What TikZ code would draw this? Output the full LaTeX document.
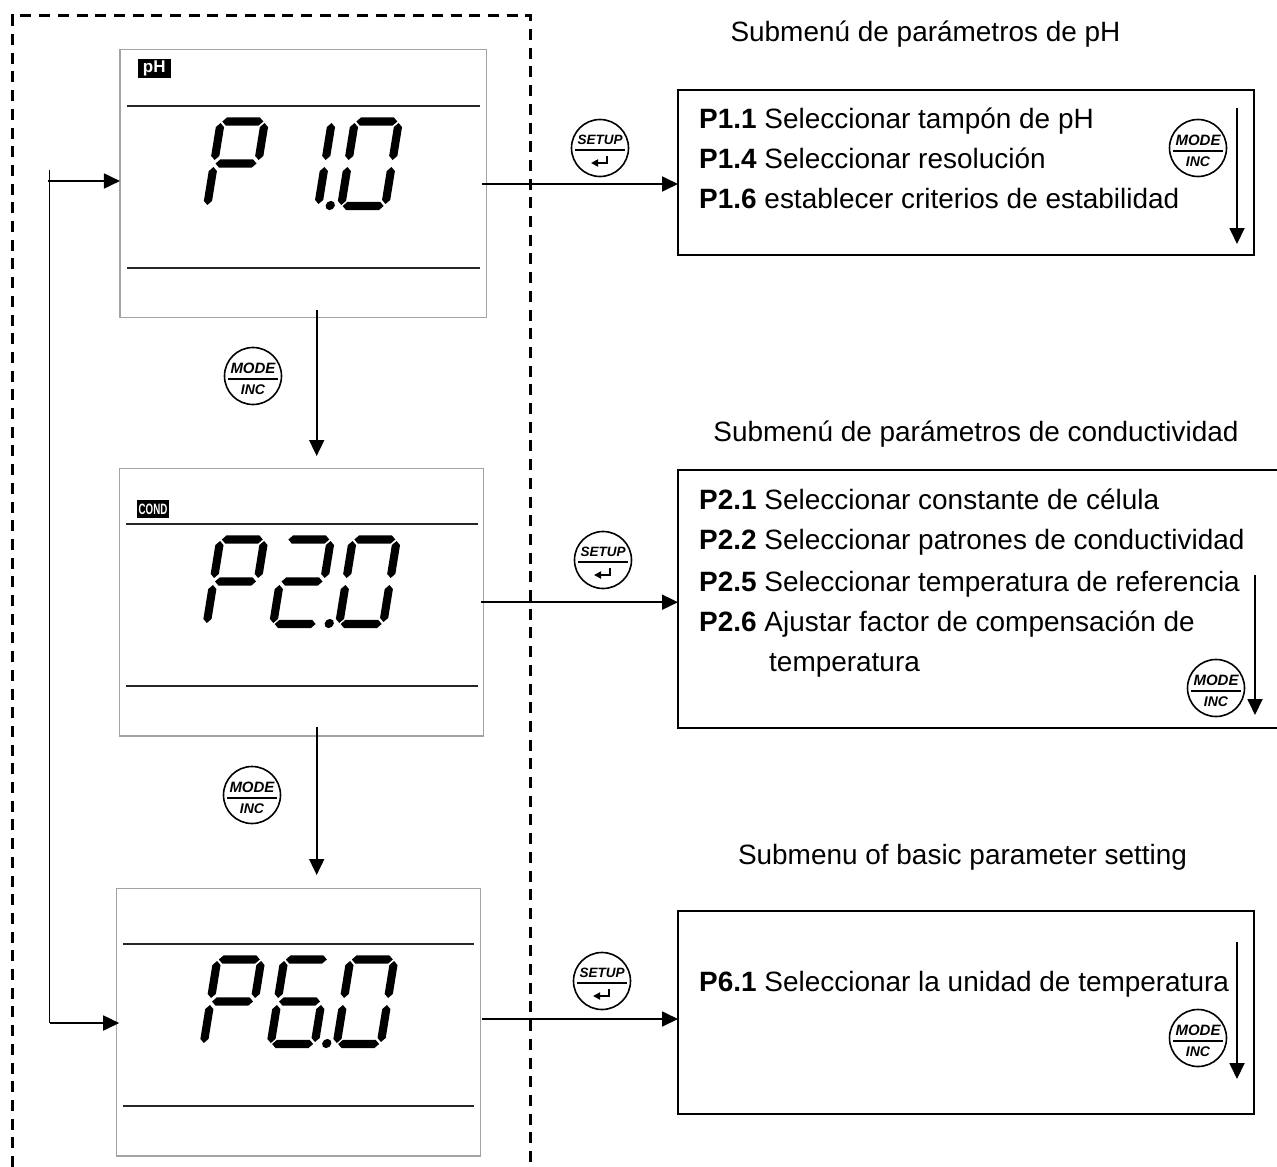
\documentclass[tikz,border=0pt]{standalone}
\usepackage{fontspec}
\setmainfont{Liberation Sans}
\usetikzlibrary{arrows.meta,calc}
\tikzset{
  panel/.style={draw=black!36,line width=1.5pt,rectangle,inner sep=0pt,outer sep=0pt},
  rulerline/.style={line width=2pt,draw=black!85},
  submenu/.style={rectangle,inner sep=0pt,outer sep=0pt},
  boxline/.style={line width=1.9pt,draw=black},
  arr/.style={line width=1.8pt,-{Triangle[length=16pt,width=15pt]}},
  plain/.style={line width=1.8pt},
  dashbox/.style={line width=2.4pt,dash pattern=on 11pt off 7.7pt},
  menutext/.style={font=\fontsize{27.95}{30}\selectfont,anchor=base west,inner sep=0pt},
  titletext/.style={font=\fontsize{27.95}{30}\selectfont,anchor=center,inner sep=0pt},
  keyring/.style={circle,draw,line width=1.6pt,minimum size=57pt,inner sep=0pt},
  keytop/.style={font=\fontsize{15}{15}\selectfont\bfseries\itshape,inner sep=0pt},
  badge/.style={fill=black,text=white,inner sep=0pt,font=\bfseries},
}
\newcommand{\hsg}[3]{\fill (#1,#3) -- ({#1+4.2},{#3+4.2}) -- ({#2-4.2},{#3+4.2}) -- (#2,#3) -- ({#2-4.2},{#3-4.2}) -- ({#1+4.2},{#3-4.2}) -- cycle;}
\newcommand{\vsg}[3]{\fill (#1,#2) -- ({#1+4.1},{#2+4.1}) -- ({#1+4.1},{#3-4.1}) -- (#1,#3) -- ({#1-4.1},{#3-4.1}) -- ({#1-4.1},{#2+4.1}) -- cycle;}
\newcommand{\segA}{\hsg{4.5}{45.5}{88.5}}
\newcommand{\segG}{\hsg{4.5}{45.5}{46.5}}
\newcommand{\segD}{\hsg{4.5}{45.5}{4}}
\newcommand{\segF}{\vsg{3}{50}{87}}
\newcommand{\segB}{\vsg{47}{50}{87}}
\newcommand{\segE}{\vsg{3}{5}{43}}
\newcommand{\segC}{\vsg{47}{6}{43}}
\newcommand{\segP}{\fill (59,4.5) circle (4.6);}
\newcommand{\lcd}[3]{\begin{scope}[shift={(#1,#2)},y=1pt,xslant=.162]#3\end{scope}}
\newcommand{\modeicon}[3]{%
  \node[keyring] (#1) at (#2,#3) {};
  \node[keytop] (#1t) at ($(#1.center)+(0,-7.5)$) {MODE};
  \node[keytop,font=\fontsize{14}{14}\selectfont\bfseries\itshape] (#1b) at ($(#1.center)+(0,14)$) {INC};
  \draw[line width=2.2pt] ($(#1.center)+(-25,3)$) -- ($(#1.center)+(25,3)$);
}
\newcommand{\setupicon}[3]{%
  \node[keyring] (#1) at (#2,#3) {};
  \node[keytop,font=\fontsize{13.5}{13.5}\selectfont\bfseries\itshape] (#1t) at ($(#1.center)+(0,-8)$) {SETUP};
  \draw[line width=2.2pt] ($(#1.center)+(-25,2)$) -- ($(#1.center)+(25,2)$);
  \draw[line width=1.8pt,-{Triangle[length=7pt,width=7pt]}] ($(#1.center)+(7,8)$) -- ($(#1.center)+(7,15)$) -- ($(#1.center)+(-9,15)$);
}
\begin{document}
\begin{tikzpicture}[x=1pt,y=-1pt]
\useasboundingbox (0,0) rectangle (1277,1167);
% dashed frame
\coordinate (da) at (12.5,1167);
\coordinate (db) at (12.5,15.5);
\coordinate (dc) at (530.5,15.5);
\coordinate (dd) at (530.5,1167);
\draw[dashbox] (da) -- (db) -- (dc) -- (dd);
% panels
\node[panel,minimum width=366.7pt,minimum height=268.2pt] (p1) at (303.3,183.6) {};
\node[panel,minimum width=364pt,minimum height=267.7pt] (p2) at (301.3,602.2) {};
\node[panel,minimum width=364pt,minimum height=267.7pt] (p6) at (298.7,1022.2) {};
\draw[rulerline] (126.7,106) -- (480,106);
\draw[rulerline] (126.7,267.7) -- (480,267.7);
\draw[rulerline] (125.7,524) -- (477.7,524);
\draw[rulerline] (125.7,686) -- (477.7,686);
\draw[rulerline] (123.3,944) -- (474.3,944);
\draw[rulerline] (123.3,1106) -- (474.3,1106);
% badges
\node[badge,minimum width=33pt,minimum height=19pt,font=\fontsize{17}{17}\selectfont\bfseries] (ph) at (154.2,68.5) {pH};
\fill (136.7,500) rectangle (169.3,518.3);
\node[inner sep=0pt,text=white,xscale=.65,font=\fontsize{15}{15}\selectfont\bfseries] (cond) at (153,509.2) {COND};
% digits
\lcd{203.5}{210}{\segA\segB\segF\segG\segE}
\lcd{270.5}{210}{\segB\segC\segP}
\lcd{337.5}{210}{\segA\segB\segC\segD\segE\segF}
\lcd{203}{628}{\segA\segB\segF\segG\segE}
\lcd{269.5}{628}{\segA\segB\segG\segE\segD\segP}
\lcd{335.5}{628}{\segA\segB\segC\segD\segE\segF}
\lcd{200}{1048}{\segA\segB\segF\segG\segE}
\lcd{267}{1048}{\segA\segF\segG\segE\segC\segD\segP}
\lcd{333}{1048}{\segA\segB\segC\segD\segE\segF}
% submenu boxes
\node[submenu,draw,line width=1.9pt,minimum width=576pt,minimum height=165pt] (b1) at (966,172.5) {};
\node[submenu,minimum width=599pt,minimum height=258pt] (b2) at (977.5,599) {};
\draw[boxline] (b2.north east) -- (b2.north west) -- (b2.south west) -- (b2.south east);
\node[submenu,draw,line width=1.9pt,minimum width=576pt,minimum height=203pt] (b3) at (966,1012.5) {};
% titles
\node[titletext] (t1) at (925.5,34) {Submenú de parámetros de pH};
\node[titletext] (t2) at (976,434) {Submenú de parámetros de conductividad};
\node[titletext] (t3) at (962.5,857) {Submenu of basic parameter setting};
% texts
\node[menutext] (l11) at (699,128.5) {\textbf{P1.1} Seleccionar tampón de pH};
\node[menutext] (l14) at (699,168.5) {\textbf{P1.4} Seleccionar resolución};
\node[menutext] (l16) at (699,208.5) {\textbf{P1.6} establecer criterios de estabilidad};
\node[menutext] (l21) at (699,509.5) {\textbf{P2.1} Seleccionar constante de célula};
\node[menutext] (l22) at (699,549.5) {\textbf{P2.2} Seleccionar patrones de conductividad};
\node[menutext] (l25) at (699,591.5) {\textbf{P2.5} Seleccionar temperatura de referencia};
\node[menutext] (l26) at (699,631.5) {\textbf{P2.6} Ajustar factor de compensación de};
\node[menutext] (l27) at (769,671.5) {temperatura};
\node[menutext] (l61) at (699,991.5) {\textbf{P6.1} Seleccionar la unidad de temperatura};
% icons
\setupicon{s1}{600}{148}
\setupicon{s2}{603}{560}
\setupicon{s3}{602}{981}
\modeicon{m1}{253}{376}
\modeicon{m2}{252}{795}
\modeicon{m3}{1198}{148}
\modeicon{m4}{1216}{688}
\modeicon{m5}{1198}{1038}
% connectors
\draw[arr] ([xshift=-4.5pt,yshift=-.4pt]p1.east) -- ([yshift=-.4pt]p1.east -| b1.west);
\draw[arr] ([xshift=-2pt]p2.east) -- (p2.east -| b2.west);
\draw[arr] ([xshift=1pt,yshift=3.2pt]p6.east) -- ([yshift=3.2pt]p6.east -| b3.west);
\coordinate (va) at (316.7,310);
\coordinate (vb) at (316.7,456);
\coordinate (vc) at (316.7,727);
\coordinate (vd) at (316.7,875);
\draw[arr] (va) -- (vb);
\draw[arr] (vc) -- (vd);
\coordinate (lt) at (49.5,170);
\coordinate (lb) at (49.5,1023);
\coordinate (lh) at (48,181);
\draw[plain] (lt) -- (lb);
\draw[arr] (lh) -- (lh -| p1.west);
\draw[arr] (lb) -- ([xshift=2.5pt]lb -| p6.west);
\coordinate (a1) at (1237,108);
\coordinate (a2) at (1237,244);
\coordinate (a3) at (1255,575);
\coordinate (a4) at (1255,715);
\coordinate (a5) at (1237,942);
\coordinate (a6) at (1237,1079);
\draw[arr] (a1) -- (a2);
\draw[arr] (a3) -- (a4);
\draw[arr] (a5) -- (a6);
\end{tikzpicture}
\end{document}
